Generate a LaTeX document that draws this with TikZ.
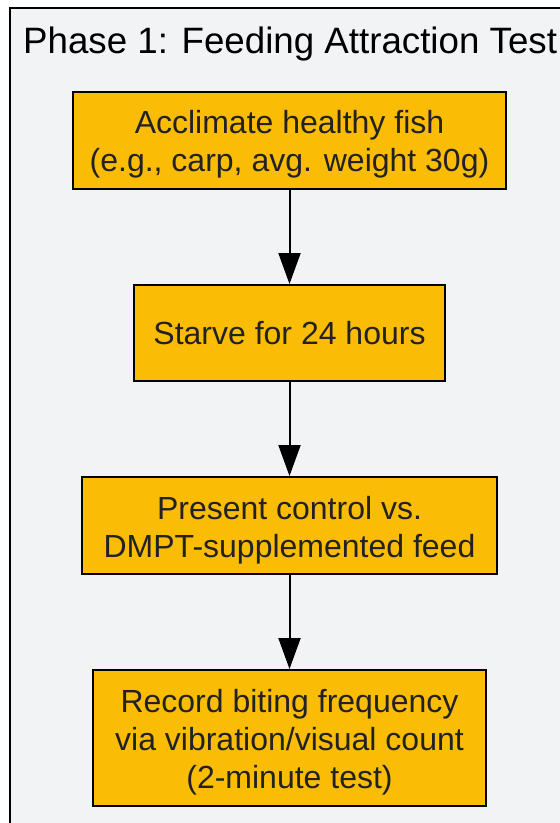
\documentclass[tikz,border=0pt]{standalone}
\usepackage{fontspec}
\setmainfont{Liberation Sans}
\usetikzlibrary{arrows.meta}
\definecolor{bgc}{RGB}{241,243,245}
\definecolor{boxc}{RGB}{251,188,5}
\definecolor{txtc}{RGB}{34,34,34}
\begin{document}
\begin{tikzpicture}[x=1pt,y=-1pt,
  stepbox/.style={draw=black, line width=2pt, fill=boxc, inner sep=0pt},
  steptext/.style={text=txtc, font=\fontsize{32}{38}\selectfont, align=center, inner sep=0pt},
  arr/.style={-{Triangle[width=22pt,length=31pt]}, line width=2pt}]
\useasboundingbox (0,0) rectangle (560,823);
\fill[white] (0,0) rectangle (560,823);
\draw[fill=bgc, line width=2pt] (10,8) rectangle (600,860);
\node[anchor=base west, font=\fontsize{36.7}{40}\selectfont, text=black, inner sep=0pt] (title) at (23,53) {Phase 1: Feeding Attraction Test};
\node[stepbox, minimum width=433pt, minimum height=97pt] (a) at (289.5,140.5) {};
\node[stepbox, minimum width=311pt, minimum height=96pt] (b) at (289.5,333) {};
\node[stepbox, minimum width=415pt, minimum height=97pt] (c) at (289.5,525.5) {};
\node[stepbox, minimum width=393pt, minimum height=136pt] (d) at (289.5,738) {};
\node[steptext] (at) at (289.5,144.5) {Acclimate healthy fish\\(e.g., carp, avg. weight 30g)};
\node[steptext] (bt) at (289.5,333.5) {Starve for 24 hours};
\node[steptext] (ct) at (289.5,530) {Present control vs.\\DMPT-supplemented feed};
\node[steptext] (dt) at (289.5,742.5) {Record biting frequency\\via vibration/visual count\\(2-minute test)};
\draw[arr] (a) -- (b);
\draw[arr] (b) -- (c);
\draw[arr] (c) -- (d);
\end{tikzpicture}
\end{document}
